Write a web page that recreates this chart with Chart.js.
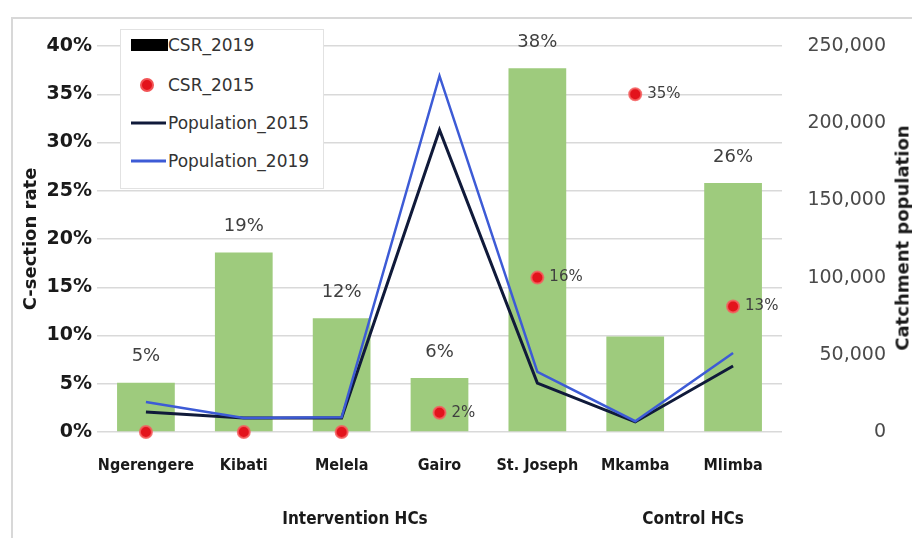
<!DOCTYPE html>
<html>
<head>
<meta charset="utf-8">
<title>C-section rate and catchment population</title>
<script src="https://cdn.jsdelivr.net/npm/chart.js@4.4.1/dist/chart.umd.min.js"></script>
<style>
    html, body { margin: 0; padding: 0; background: #fff; overflow: hidden; }
    #wrap { position: relative; width: 912px; height: 538px; }
    #frame { position: absolute; left: 11px; top: 17px; right: -4px; bottom: -4px;
             border-top: 2px solid #d8d8d8; border-left: 2px solid #d8d8d8; }
    #chart { position: absolute; left: 0; top: 0; }
    .txt { position: absolute; white-space: nowrap; color: #1a1a1a; }
    #rightTitle { left: 902px; top: 238px; transform: translate(-50%, -50%) rotate(-90deg);
                  font: bold 18px "DejaVu Sans", sans-serif; }
    .group { top: 518px; transform: translate(-50%, -50%);
             font: bold 17px "DejaVu Sans Condensed", "Liberation Sans Narrow", sans-serif; }
    #legend { position: absolute; left: 120px; top: 29px; width: 202px; height: 158px;
              background: #fff; border: 1px solid #e2e2e2; font: 17px "DejaVu Sans", sans-serif; color: #333; }
    #legend .row { position: absolute; left: 0; height: 20px; margin-top: -10px; width: 100%; }
    #legend .row span { position: absolute; left: 47px; top: 50%; transform: translateY(-50%); }
    #legend .sw { position: absolute; top: 50%; transform: translateY(-50%); }
</style>
</head>
<body>
<div id="wrap">
    <div id="frame"></div>
    <canvas id="chart" width="912" height="538"></canvas>
    <div id="legend"></div>
    <div class="txt" id="rightTitle">Catchment population</div>
</div>
<script>
// Health centres and their values
const categories = ['Ngerengere', 'Kibati', 'Melela', 'Gairo', 'St. Joseph', 'Mkamba', 'Mlimba'];
const csr2019 = [5.1, 18.6, 11.8, 5.6, 37.7, 9.9, 25.8];
const csr2019Labelled = [true, true, true, true, true, false, true];
const csr2015 = [0, 0, 0, 2, 16, 35, 13];
const population2015 = [13000, 9000, 9000, 195600, 31700, 6500, 42700];
const population2019 = [19400, 9000, 9500, 230600, 38900, 7000, 51200];
const rateTicks = [0, 5, 10, 15, 20, 25, 30, 35, 40];
const populationTicks = [0, 50000, 100000, 150000, 200000, 250000];
const groupNames = ['Intervention HCs', 'Control HCs'];
const groupCentres = [355, 693];

const seriesNames = ['CSR_2019', 'CSR_2015', 'Population_2015', 'Population_2019'];
const colors = {
    bar: '#9ecb7d',
    dot: '#e3131c',
    dotEdge: 'rgba(245, 95, 95, 0.85)',
    pop2015: '#101a3a',
    pop2019: '#3d5bd6'
};

const sans = '"DejaVu Sans", sans-serif';
const narrow = '"DejaVu Sans Condensed", "Liberation Sans Narrow", sans-serif';

// value labels over the bars and next to the 2015 dots
const valueLabels = {
    id: 'valueLabels',
    afterDatasetsDraw(chart) {
        const ctx = chart.ctx;
        ctx.save();
        ctx.fillStyle = '#3f3f3f';
        ctx.textBaseline = 'middle';

        ctx.font = '18px ' + sans;
        ctx.textAlign = 'center';
        chart.getDatasetMeta(0).data.forEach((bar, i) => {
            if (!csr2019Labelled[i]) return;
            ctx.fillText(Math.round(csr2019[i]) + '%', bar.x, bar.y - 26);
        });

        ctx.font = '15px ' + sans;
        ctx.textAlign = 'left';
        chart.getDatasetMeta(1).data.forEach((pt, i) => {
            if (csr2015[i] <= 0) return;
            ctx.fillText(csr2015[i] + '%', pt.x + 12, pt.y);
        });
        ctx.restore();
    }
};

const ctx = document.getElementById('chart').getContext('2d');
const chart = new Chart(ctx, {
    data: {
        labels: categories,
        datasets: [{
            type: 'bar',
            label: seriesNames[0],
            data: csr2019,
            backgroundColor: colors.bar,
            barPercentage: 0.59,
            categoryPercentage: 1,
            yAxisID: 'y',
            order: 4
        }, {
            type: 'line',
            label: seriesNames[1],
            data: csr2015,
            showLine: false,
            pointRadius: 6,
            pointBackgroundColor: colors.dot,
            pointBorderColor: colors.dotEdge,
            pointBorderWidth: 2,
            clip: false,
            yAxisID: 'y',
            order: 1
        }, {
            type: 'line',
            label: seriesNames[2],
            data: population2015,
            borderColor: colors.pop2015,
            borderWidth: 3,
            pointRadius: 0,
            tension: 0,
            yAxisID: 'y1',
            order: 3
        }, {
            type: 'line',
            label: seriesNames[3],
            data: population2019,
            borderColor: colors.pop2019,
            borderWidth: 2.5,
            pointRadius: 0,
            tension: 0,
            yAxisID: 'y1',
            order: 2
        }]
    },
    options: {
        responsive: false,
        animation: false,
        layout: { padding: { top: 46, left: 0, right: 26, bottom: 0 } },
        plugins: {
            legend: { display: false },
            tooltip: { enabled: false }
        },
        scales: {
            x: {
                grid: { display: false, drawTicks: false },
                border: { display: false },
                ticks: {
                    color: '#1a1a1a',
                    font: { family: narrow, size: 16, weight: 'bold' },
                    padding: 24,
                    autoSkip: false,
                    maxRotation: 0
                },
                afterFit(scale) { scale.height = 106; }
            },
            y: {
                position: 'left',
                min: 0,
                max: 40,
                grid: { color: '#d9d9d9', lineWidth: 1.5, drawTicks: false },
                border: { display: false },
                afterBuildTicks(scale) { scale.ticks = rateTicks.map(v => ({ value: v })); },
                ticks: {
                    color: '#1a1a1a',
                    font: { family: sans, size: 19, weight: 'bold' },
                    padding: 5,
                    callback: v => v + '%'
                },
                title: {
                    display: true,
                    text: 'C-section rate',
                    color: '#1a1a1a',
                    font: { family: sans, size: 18, weight: 'bold' },
                    padding: { top: 21, bottom: 0 }
                },
                afterFit(scale) { scale.width = 97; }
            },
            y1: {
                position: 'right',
                min: 0,
                max: 250000,
                grid: { display: false, drawTicks: false },
                border: { display: false },
                afterBuildTicks(scale) { scale.ticks = populationTicks.map(v => ({ value: v })); },
                ticks: {
                    color: '#4a4a4a',
                    font: { family: sans, size: 19 },
                    crossAlign: 'far',
                    padding: 0,
                    callback: v => v.toLocaleString('en-US')
                },
                afterFit(scale) { scale.width = 104; }
            }
        }
    },
    plugins: [valueLabels]
});

// legend box drawn over the top-left of the plot
const legend = document.getElementById('legend');
const rowTops = [15, 55, 93, 131];
const swatches = [
    'left:10px;width:37px;height:12px;background:#000;',
    'left:19px;width:10px;height:10px;border-radius:50%;background:' + colors.dot + ';border:2px solid ' + colors.dotEdge + ';',
    'left:10px;width:35px;height:3px;background:' + colors.pop2015 + ';',
    'left:10px;width:35px;height:3px;background:' + colors.pop2019 + ';'
];
seriesNames.forEach((name, i) => {
    const row = document.createElement('div');
    row.className = 'row';
    row.style.top = rowTops[i] + 'px';
    row.innerHTML = '<div class="sw" style="' + swatches[i] + '"></div><span>' + name + '</span>';
    legend.appendChild(row);
});

// group captions under the category labels
const wrap = document.getElementById('wrap');
groupNames.forEach((name, i) => {
    const el = document.createElement('div');
    el.className = 'txt group';
    el.style.left = groupCentres[i] + 'px';
    el.textContent = name;
    wrap.appendChild(el);
});
</script>
</body>
</html>
